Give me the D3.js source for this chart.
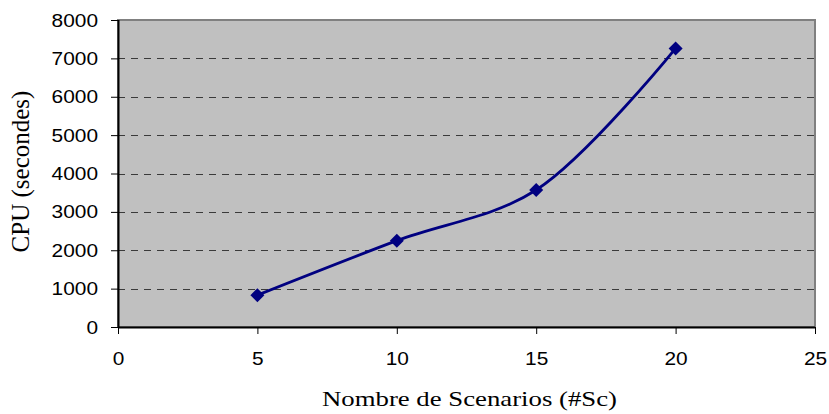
<!DOCTYPE html>
<html>
<head>
<meta charset="utf-8">
<script src="https://cdn.jsdelivr.net/npm/d3@7"></script>
<style>
  body { margin: 0; background: #fff; }
  svg { display: block; }
</style>
</head>
<body>
<svg id="chart" width="829" height="414"></svg>
<script>
// data
const scenarios = [5, 10, 15, 20];
const cpuSeconds = [830, 2250, 3570, 7260];
const xTicks = [0, 5, 10, 15, 20, 25];
const yTicks = [0, 1000, 2000, 3000, 4000, 5000, 6000, 7000, 8000];

const width = 829, height = 414;
const margin = { top: 20, right: 14, bottom: 87, left: 118 };
const innerW = width - margin.left - margin.right;
const innerH = height - margin.top - margin.bottom;

const svg = d3.select('#chart');
const g = svg.append('g').attr('transform', `translate(${margin.left},${margin.top})`);

const x = d3.scaleLinear().domain([0, 25]).range([0, innerW]);
const y = d3.scaleLinear().domain([0, 8000]).range([innerH, 0]);

// plot background
g.append('rect')
  .attr('width', innerW)
  .attr('height', innerH)
  .attr('fill', '#c0c0c0')
  .attr('stroke', '#808080')
  .attr('stroke-width', 2);

// dashed gridlines
g.append('g')
  .selectAll('line')
  .data(yTicks.filter(d => d > 0 && d < 8000))
  .enter().append('line')
  .attr('x1', 0)
  .attr('x2', innerW)
  .attr('y1', d => Math.round(y(d)) + 0.5)
  .attr('y2', d => Math.round(y(d)) + 0.5)
  .attr('stroke', '#3a3a3a')
  .attr('stroke-dasharray', '7,6');

// axes
const xAxis = g.append('g')
  .attr('transform', `translate(0,${innerH})`)
  .call(d3.axisBottom(x).tickValues(xTicks).tickFormat(d3.format('d')).tickSize(7).tickPadding(18));
const yAxis = g.append('g')
  .call(d3.axisLeft(y).tickValues(yTicks).tickFormat(d3.format('d')).tickSize(7).tickPadding(13));

// the reference glyphs are slightly wider than tall, so stretch them a bit
[xAxis, yAxis].forEach(ax => {
  ax.attr('font-size', null).attr('font-family', null);
  ax.select('.domain').attr('stroke', '#000').attr('stroke-width', 2);
  ax.selectAll('.tick line').attr('stroke', '#000');
  ax.selectAll('.tick text')
    .style('font-family', '"Liberation Sans", Arial, sans-serif')
    .style('font-size', '19px')
    .attr('textLength', d => String(d).length * 11.6)
    .attr('lengthAdjust', 'spacingAndGlyphs')
    .attr('fill', '#000');
});
xAxis.select('.domain').attr('d', `M0,0.5H${innerW}`);
yAxis.select('.domain').attr('d', `M0.5,0V${innerH}`);

// smoothed line
const points = scenarios.map((s, i) => [s, cpuSeconds[i]]);
const line = d3.line()
  .x(d => x(d[0]))
  .y(d => y(d[1]))
  .curve(d3.curveCatmullRom.alpha(0.5));

g.append('path')
  .datum(points)
  .attr('fill', 'none')
  .attr('stroke', '#000080')
  .attr('stroke-width', 2.8)
  .attr('d', line);

// diamond markers
g.append('g')
  .selectAll('path')
  .data(points)
  .enter().append('path')
  .attr('transform', d => `translate(${x(d[0])},${y(d[1])})`)
  .attr('d', d3.symbol().type(d3.symbolDiamond2).size(125))
  .attr('fill', '#000080');

// axis titles
svg.append('text')
  .attr('x', 322)
  .attr('y', 406)
  .attr('textLength', 295)
  .attr('lengthAdjust', 'spacingAndGlyphs')
  .style('font-family', '"Liberation Serif", "Times New Roman", serif')
  .style('font-size', '21px')
  .text('Nombre de Scenarios (#Sc)');

svg.append('text')
  .attr('transform', 'translate(29,171.5) rotate(-90)')
  .attr('text-anchor', 'middle')
  .style('font-family', '"Liberation Serif", "Times New Roman", serif')
  .style('font-size', '25px')
  .text('CPU (secondes)');
</script>
</body>
</html>
